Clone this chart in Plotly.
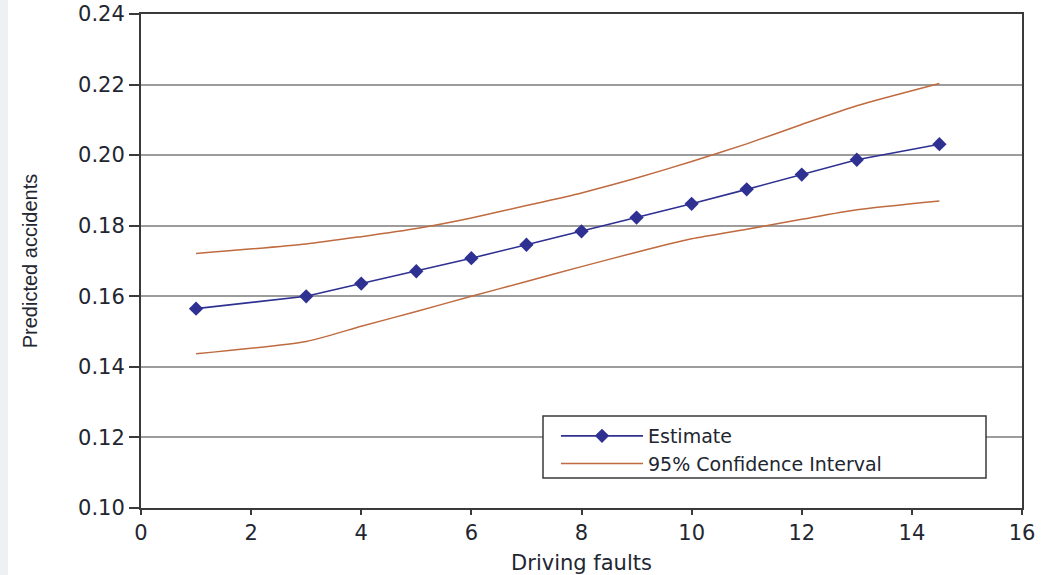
import plotly.graph_objects as go

# Driving faults at which predictions were evaluated
faults = [1, 3, 4, 5, 6, 7, 8, 9, 10, 11, 12, 13, 14.5]

# Predicted accidents (point estimate) and 95% confidence bounds
estimate = [0.1565, 0.1600, 0.1636, 0.1671, 0.1708, 0.1746, 0.1784,
            0.1823, 0.1862, 0.1903, 0.1945, 0.1987, 0.2031]
ci_upper = [0.1721, 0.1748, 0.1769, 0.1792, 0.1822, 0.1857, 0.1893,
            0.1935, 0.1982, 0.2032, 0.2087, 0.2140, 0.2203]
ci_lower = [0.1437, 0.1472, 0.1515, 0.1557, 0.1600, 0.1642, 0.1684,
            0.1725, 0.1763, 0.1790, 0.1818, 0.1845, 0.1870]

x_ticks = [0, 2, 4, 6, 8, 10, 12, 14, 16]
y_ticks = [0.10, 0.12, 0.14, 0.16, 0.18, 0.20, 0.22, 0.24]

NAVY = "#2e3192"
RUST = "#bf6a3f"
TEXT = "#222630"
FONT = "DejaVu Sans"

fig = go.Figure()

fig.add_trace(go.Scatter(
    x=faults, y=estimate, name="Estimate", mode="lines+markers",
    line=dict(color=NAVY, width=1.6),
    marker=dict(symbol="diamond", size=11, color=NAVY),
))
fig.add_trace(go.Scatter(
    x=faults, y=ci_upper, name="95% Confidence Interval", mode="lines",
    line=dict(color=RUST, width=1.5, shape="spline", smoothing=0.6),
))
fig.add_trace(go.Scatter(
    x=faults, y=ci_lower, name="95% CI lower", mode="lines", showlegend=False,
    line=dict(color=RUST, width=1.5, shape="spline", smoothing=0.6),
))

L, R, T, B = 141, 26, 14, 67
W, H = 1048, 575
pw, ph = W - L - R, H - T - B

def px_x(p):
    return (p - L) / pw

def px_y(p):
    return (H - B - p) / ph

fig.update_layout(
    width=W, height=H,
    margin=dict(l=L, r=R, t=T, b=B, autoexpand=False),
    paper_bgcolor="white", plot_bgcolor="white",
    font=dict(family=FONT, size=19, color=TEXT),
    showlegend=True,
    legend=dict(
        x=px_x(556), y=px_y(417), xanchor="left", yanchor="top",
        bgcolor="rgba(0,0,0,0)", borderwidth=0,
        itemwidth=82, font=dict(family=FONT, size=19, color=TEXT),
        tracegroupgap=0,
    ),
    xaxis=dict(
        range=[0, 16], tickvals=x_ticks, ticktext=[str(v) for v in x_ticks],
        showgrid=False, zeroline=False, automargin=False,
        showline=True, linecolor="#3a3a3a", linewidth=2, mirror=True,
        ticks="outside", ticklen=5, tickwidth=1.5, tickcolor="#3a3a3a",
        tickfont=dict(family=FONT, size=21, color=TEXT),
        title=dict(text="Driving faults", font=dict(family=FONT, size=21, color=TEXT), standoff=14),
    ),
    yaxis=dict(
        range=[0.10, 0.24], tickvals=y_ticks, ticktext=[f"{v:.2f}" for v in y_ticks],
        showgrid=True, gridcolor="#9c9c9c", gridwidth=1.5, zeroline=False, automargin=False,
        showline=True, linecolor="#3a3a3a", linewidth=2, mirror=True,
        ticks="outside", ticklen=10, tickwidth=1.5, tickcolor="#3a3a3a",
        tickfont=dict(family=FONT, size=21, color=TEXT),
        title=dict(text="Predicted accidents", font=dict(family="Liberation Sans", size=20, color=TEXT), standoff=35),
    ),
    shapes=[
        # legend frame
        dict(type="rect", xref="paper", yref="paper",
             x0=px_x(543), x1=px_x(986), y0=px_y(478), y1=px_y(416),
             line=dict(color="#3a3a3a", width=1.5), fillcolor="white", layer="above"),
        # light strip along the left edge of the page
        dict(type="rect", xref="paper", yref="paper",
             x0=px_x(0), x1=px_x(8), y0=px_y(H), y1=px_y(0),
             line=dict(width=0), fillcolor="#eef0f3", layer="below"),
    ],
)

fig.write_html("out.html")
